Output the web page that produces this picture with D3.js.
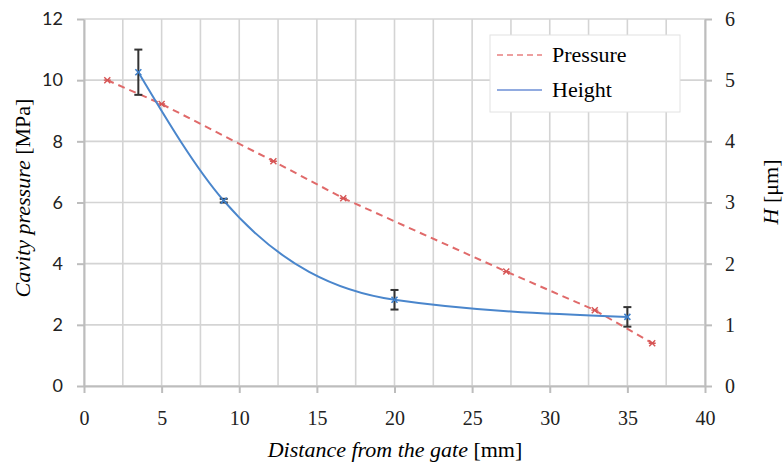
<!DOCTYPE html>
<meta charset="utf-8">
<script src="https://d3js.org/d3.v7.min.js"></script>
<style>
body { margin: 0; background: #fff; }
.grid line { stroke: #d4d4d4; stroke-width: 1.6px; }
.axis path, .axis line { stroke: #bdbdbd; stroke-width: 2px; }
.axis text { fill: #222; }
.serif { font-family: "Liberation Serif", "DejaVu Serif", serif; }
</style>
<body>
<script>
// PRESSURE (left axis, MPa)
const pressureX = [1.5, 5.0, 12.2, 16.7, 27.2, 32.9, 36.6];
const pressureY = [10.0, 9.22, 7.35, 6.14, 3.74, 2.48, 1.40];

// HEIGHT (right axis, um)
const heightX = [3.5, 9.0, 20.0, 35.0];
const heightY = [5.13, 3.03, 1.41, 1.13];
const heightErr = [0.37, 0.03, 0.16, 0.16];

const xTicks = [0, 5, 10, 15, 20, 25, 30, 35, 40];
const xGrid = d3.range(0, 40.1, 2.5);
const yLeftTicks = [0, 2, 4, 6, 8, 10, 12];
const yRightTicks = [0, 1, 2, 3, 4, 5, 6];

const width = 784, height = 470;
const plotLeft = 84, plotRight = 705, plotTop = 19, plotBottom = 386;

const x = d3.scaleLinear().domain([0, 40]).range([plotLeft, plotRight]);
const yL = d3.scaleLinear().domain([0, 12]).range([plotBottom, plotTop]);
const yR = d3.scaleLinear().domain([0, 6]).range([plotBottom, plotTop]);

const svg = d3.select("body").append("svg")
  .attr("width", width)
  .attr("height", height);

// gridlines
svg.append("g").attr("class", "grid")
  .selectAll("line").data(xGrid).join("line")
  .attr("x1", d => x(d)).attr("x2", d => x(d))
  .attr("y1", plotTop).attr("y2", plotBottom);

svg.append("g").attr("class", "grid")
  .selectAll("line").data(yLeftTicks).join("line")
  .attr("x1", plotLeft).attr("x2", plotRight)
  .attr("y1", d => yL(d)).attr("y2", d => yL(d));

// axes
svg.append("g").attr("class", "axis serif")
  .attr("transform", `translate(0,${plotBottom})`)
  .call(d3.axisBottom(x).tickValues(xTicks).tickSize(7).tickPadding(18).tickSizeOuter(0))
  .selectAll("text").style("font-size", "20px");

svg.append("g").attr("class", "axis")
  .attr("transform", `translate(${plotLeft},0)`)
  .call(d3.axisLeft(yL).tickValues(yLeftTicks).tickSize(7).tickPadding(14).tickSizeOuter(0))
  .selectAll("text").style("font-family", "Lato, 'Open Sans', sans-serif").style("font-size", "18px");

svg.append("g").attr("class", "axis serif")
  .attr("transform", `translate(${plotRight},0)`)
  .call(d3.axisRight(yR).tickValues(yRightTicks).tickFormat(d3.format("d")).tickSize(7).tickPadding(13).tickSizeOuter(0))
  .selectAll("text").style("font-size", "20px");

// pressure line
const pData = pressureX.map((d, i) => [d, pressureY[i]]);
svg.append("path")
  .datum(pData)
  .attr("fill", "none")
  .attr("stroke", "#e06a6a")
  .attr("stroke-width", 2)
  .attr("stroke-dasharray", "7 5")
  .attr("d", d3.line().x(d => x(d[0])).y(d => yL(d[1])));

svg.append("g").selectAll("path").data(pData).join("path")
  .attr("transform", d => `translate(${x(d[0])},${yL(d[1])})`)
  .attr("d", "M-3,-3L3,3M-3,3L3,-3M-3.5,0L3.5,0")
  .attr("stroke", "#d65555")
  .attr("stroke-width", 1.4);

// height line
const hData = heightX.map((d, i) => [d, heightY[i], heightErr[i]]);
svg.append("path")
  .datum(hData)
  .attr("fill", "none")
  .attr("stroke", "#4a86cc")
  .attr("stroke-width", 2)
  .attr("d", d3.line().curve(d3.curveMonotoneX).x(d => x(d[0])).y(d => yR(d[1])));

// error bars
const eb = svg.append("g").attr("stroke", "#333").attr("stroke-width", 2);
eb.selectAll(".v").data(hData).join("line")
  .attr("x1", d => x(d[0])).attr("x2", d => x(d[0]))
  .attr("y1", d => yR(d[1] + d[2])).attr("y2", d => yR(d[1] - d[2]));
eb.selectAll(".t").data(hData).join("line")
  .attr("x1", d => x(d[0]) - 4).attr("x2", d => x(d[0]) + 4)
  .attr("y1", d => yR(d[1] + d[2])).attr("y2", d => yR(d[1] + d[2]));
eb.selectAll(".b").data(hData).join("line")
  .attr("x1", d => x(d[0]) - 4).attr("x2", d => x(d[0]) + 4)
  .attr("y1", d => yR(d[1] - d[2])).attr("y2", d => yR(d[1] - d[2]));

svg.append("g").selectAll("path").data(hData).join("path")
  .attr("transform", d => `translate(${x(d[0])},${yR(d[1])})`)
  .attr("d", "M-3,-3L3,3M-3,3L3,-3")
  .attr("stroke", "#3f7fc8")
  .attr("stroke-width", 1.6);

// axis titles
svg.append("text").attr("class", "serif")
  .attr("transform", "translate(30,198) rotate(-90)")
  .attr("text-anchor", "middle")
  .style("font-size", "22px")
  .html('<tspan font-style="italic">Cavity pressure</tspan> [MPa]');

svg.append("text").attr("class", "serif")
  .attr("x", 395).attr("y", 457)
  .attr("text-anchor", "middle")
  .style("font-size", "22px")
  .html('<tspan font-style="italic">Distance from the gate</tspan> [mm]');

svg.append("text").attr("class", "serif")
  .attr("transform", "translate(778,192) rotate(-90)")
  .attr("text-anchor", "middle")
  .style("font-size", "22px")
  .html('<tspan font-style="italic">H</tspan> [μm]');

// legend
svg.append("rect")
  .attr("x", 490).attr("y", 35)
  .attr("width", 190).attr("height", 77)
  .attr("fill", "#fff")
  .attr("stroke", "#e2e2e2");

svg.append("line")
  .attr("x1", 497).attr("x2", 542).attr("y1", 55).attr("y2", 55)
  .attr("stroke", "#e88080").attr("stroke-width", 1.6).attr("stroke-dasharray", "6 4");
svg.append("line")
  .attr("x1", 497).attr("x2", 542).attr("y1", 90).attr("y2", 90)
  .attr("stroke", "#6c8fd6").attr("stroke-width", 1.6);

svg.append("text").attr("class", "serif")
  .attr("x", 552).attr("y", 62).style("font-size", "22px").text("Pressure");
svg.append("text").attr("class", "serif")
  .attr("x", 552).attr("y", 97).style("font-size", "22px").text("Height");
</script>
</body>
